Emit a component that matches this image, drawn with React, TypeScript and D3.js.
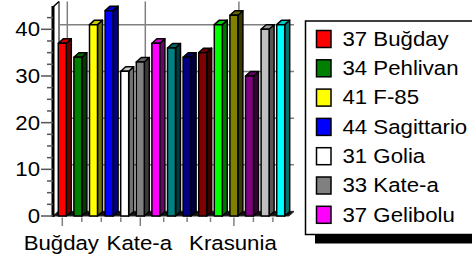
import React from "react";
import * as d3 from "d3";

const categories = [
  "Buğday", "Pehlivan", "F-85", "Sagittario", "Golia", "Kate-a", "Gelibolu",
  "Çeşit 8", "Çeşit 9", "Çeşit 10", "Çeşit 11", "Krasunia", "Çeşit 13", "Çeşit 14", "Çeşit 15",
];
const values = [37, 34, 41, 44, 31, 33, 37, 36, 34, 35, 41, 43, 30, 40, 41];
const colors = [
  "#FF0000", "#008000", "#FFFF00", "#0000FF", "#FFFFFF", "#808080", "#FF00FF",
  "#008080", "#000080", "#800000", "#00FF00", "#808000", "#800080", "#C0C0C0", "#00FFFF",
];
const legendCount = 7;
const xLabelIdx = [0, 5, 11, 16];
const yMajor = [0, 10, 20, 30, 40];
const yMinorStep = 2.5;
const yMax = 45;

const W = 472;
const H = 262;
const DX = 5;
const DY = -4.5;
const FS = 19.5;
const SX = 1.14;
const FONT = "'Liberation Sans', Arial, Helvetica, sans-serif";

function Txt({ x, y, anchor = "start", children }: any) {
  return (
    <text
      transform={`translate(${x},${y}) scale(${SX},1)`}
      textAnchor={anchor}
      fontSize={FS}
      fontFamily={FONT}
      fill="#000"
    >
      {children}
    </text>
  );
}

function scaleColor(c: string, k: number) {
  const r = d3.rgb(c);
  return d3.rgb(r.r * k, r.g * k, r.b * k).formatHex();
}

export default function App() {
  const x = d3.scaleLinear().domain([0, values.length - 1]).range([62.3, 280.7]);
  const y = d3.scaleLinear().domain([0, 40]).range([216, 29.3]);
  const barW = 8;
  const y0 = y(0);
  const xLeft = 53;
  const xRight = 289;

  const minorY = d3.range(0, yMax, yMinorStep).filter((v) => !yMajor.includes(v));

  const xTicks: { p: number; major: boolean }[] = [];
  for (let i = 0; i < xLabelIdx.length - 1; i++) {
    const a = xLabelIdx[i];
    const b = xLabelIdx[i + 1];
    xTicks.push({ p: a, major: true });
    [0.25, 0.5, 0.75].forEach((t) => xTicks.push({ p: a + (b - a) * t, major: false }));
  }
  const visTicks = xTicks.filter((t) => x(t.p) < xRight);

  return (
    <svg width={W} height={H} style={{ position: "absolute", left: 0, top: 0 }}>
      <rect x={0} y={0} width={W} height={H} fill="#fff" />
      {/* back wall gridlines */}
      {yMajor.map((v) => (
        <line key={"gh" + v} x1={xLeft + DX + 2} x2={xRight + DX} y1={y(v) + DY} y2={y(v) + DY}
          stroke="#808080" strokeWidth={1.5} />
      ))}
      {xLabelIdx.filter((i) => x(i) < xRight).map((i) => (
        <line key={"gv" + i} x1={x(i) + DX} x2={x(i) + DX} y1={y(yMax) + DY} y2={y0 + DY}
          stroke="#808080" strokeWidth={1.5} />
      ))}
      {/* floor */}
      <polygon
        points={`${xLeft},${y0} ${xRight},${y0} ${xRight + DX},${y0 + DY} ${xLeft + DX},${y0 + DY}`}
        fill="#111" stroke="#333" strokeWidth={1} />
      {/* left wall */}
      <line x1={xLeft + DX + 1} x2={xLeft + DX + 1} y1={y(yMax) + DY} y2={y0 + DY} stroke="#222" strokeWidth={1.2} />
      <line x1={xLeft} x2={xLeft + DX + 1} y1={y(yMax) + 1} y2={y(yMax) + DY} stroke="#000" strokeWidth={1.5} />
      <line x1={xLeft} x2={xLeft} y1={y(yMax)} y2={y0 + 1} stroke="#000" strokeWidth={3} />
      {/* y ticks */}
      {yMajor.map((v) => (
        <g key={"yt" + v}>
          <line x1={41} x2={xLeft} y1={y(v)} y2={y(v)} stroke="#555" strokeWidth={1.5} />
          <Txt x={40} y={y(v) + 7} anchor="end">{v}</Txt>
        </g>
      ))}
      {minorY.map((v) => (
        <line key={"ym" + v} x1={47} x2={xLeft} y1={y(v)} y2={y(v)} stroke="#555" strokeWidth={1.5} />
      ))}
      {/* x ticks */}
      {visTicks.map((t, i) => (
        <line key={"xt" + i} x1={x(t.p)} x2={x(t.p)} y1={y0 + 1.5} y2={t.major ? y0 + 10 : y0 + 6}
          stroke="#808080" strokeWidth={1.5} />
      ))}
      {xLabelIdx.filter((i) => i < categories.length).map((i) => (
        <Txt key={"xl" + i} x={x(i) - 1} y={249.5} anchor="middle">{categories[i]}</Txt>
      ))}
      {/* bars */}
      {values.map((v, i) => {
        const x0 = x(i) - barW / 2;
        const yt = y(v);
        const c = colors[i];
        const side = scaleColor(c, 0.45);
        const top = scaleColor(c, 0.8);
        return (
          <g key={"b" + i} stroke="#000" strokeWidth={1.5} strokeLinejoin="round">
            <polygon
              points={`${x0 + barW},${yt} ${x0 + barW + DX},${yt + DY} ${x0 + barW + DX},${y0 + DY} ${x0 + barW},${y0}`}
              fill={side} />
            <polygon
              points={`${x0},${yt} ${x0 + DX},${yt + DY} ${x0 + barW + DX},${yt + DY} ${x0 + barW},${yt}`}
              fill={top} />
            <rect x={x0} y={yt} width={barW} height={y0 - yt} fill={c} />
          </g>
        );
      })}
      {/* legend */}
      <rect x={315} y={234.5} width={200} height={9} fill="#000" />
      <rect x={305.5} y={21} width={200} height={213.5} fill="#fff" stroke="#000" strokeWidth={1.5} />
      {values.slice(0, legendCount).map((v, i) => (
        <g key={"lg" + i}>
          <rect x={316.5} y={30.5 + i * 29.3} width={14.5} height={17} fill={colors[i]} stroke="#000" strokeWidth={1.5} />
          <Txt x={342.5} y={45.7 + i * 29.3}>{`${v} ${categories[i]}`}</Txt>
        </g>
      ))}
    </svg>
  );
}
